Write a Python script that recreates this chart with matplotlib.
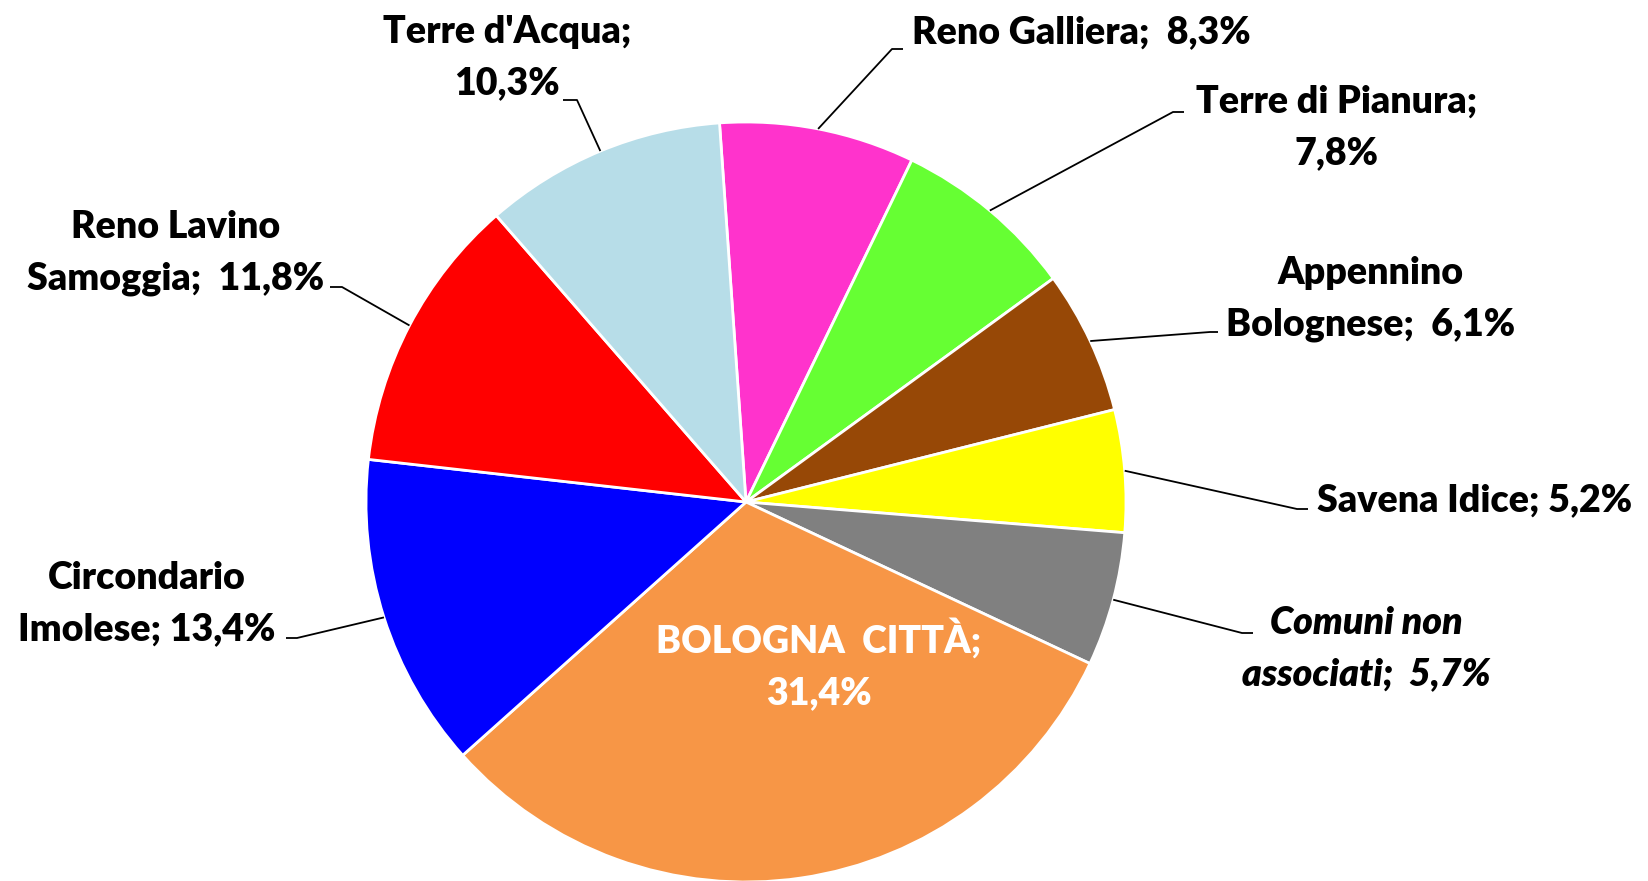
import numpy as np
import matplotlib
matplotlib.use('Agg')
import matplotlib.pyplot as plt

# ── Data ──────────────────────────────────────────────────────────────────────
names = ["Reno Galliera", "Terre di Pianura", "Appennino\nBolognese",
         "Savena Idice", "Comuni non\nassociati", "BOLOGNA  CITTÀ",
         "Circondario\nImolese", "Reno Lavino\nSamoggia", "Terre d'Acqua"]
values = [8.3, 7.8, 6.1, 5.2, 5.7, 31.4, 13.4, 11.8, 10.3]
colors = ['#FF33CC', '#66FF33', '#974806', '#FFFF00', '#808080',
          '#F79646', '#0000FF', '#FF0000', '#B7DDE8']
pct_newline = [False, True, False, False, False, True, False, False, True]
wide_gap = [True, False, True, False, True, False, False, True, False]

# ── Layout (pixel coords, y measured from top) ───────────────────────────────
W, H = 1648, 881
CX, CY, R = 746, 502, 380
LINE_H = 51

# label anchor: x, first baseline y, horizontal alignment
label_pos = [(912, 43, 'left'), (1337, 113, 'center'), (1371, 284, 'center'),
             (1317, 511, 'left'), (1366, 634, 'center'), (819, 653, 'center'),
             (147, 589, 'center'), (176, 238, 'center'), (507, 43, 'center')]
# leader: elbow point, end of short horizontal stub (None = no leader)
leaders = [((892, 49), (903, 49)), ((1173, 112), (1184, 112)),
           ((1210, 332), (1218, 332)), ((1297, 509), (1308, 509)),
           ((1242, 633), (1253, 633)), None,
           ((297, 638), (286, 638)), ((342, 287), (330, 287)),
           ((577, 100), (563, 100))]

def fy(y):
    return H - y

fig = plt.figure(figsize=(W / 100, H / 100), dpi=100)
ax = fig.add_axes([0, 0, 1, 1])

wedges, _ = ax.pie(values, colors=colors, startangle=94, counterclock=False,
                   center=(CX, fy(CY)), radius=R,
                   wedgeprops=dict(edgecolor='white', linewidth=2))
ax.set_xlim(0, W)
ax.set_ylim(0, H)
ax.set_aspect('equal')
ax.axis('off')

for i, (name, v) in enumerate(zip(names, values)):
    pct = f"{v:.1f}%".replace('.', ',')
    sep = ";\n" if pct_newline[i] else (";  " if wide_gap[i] else "; ")
    text = name + sep + pct
    x, y0, ha = label_pos[i]
    is_city = name.startswith("BOLOGNA")
    for k, line in enumerate(text.split('\n')):
        ax.text(x, fy(y0 + k * LINE_H), line, ha=ha, va='baseline',
                fontsize=27, fontweight=800, family='Lato',
                style='italic' if name.startswith("Comuni") else 'normal',
                color='white' if is_city else 'black')

    # leader line from the wedge's outer arc mid-point to the label
    if leaders[i] is not None:
        w = wedges[i]
        mid = np.deg2rad((w.theta1 + w.theta2) / 2)
        ax_x = w.center[0] + w.r * np.cos(mid)
        ax_y = w.center[1] + w.r * np.sin(mid)
        (ex, ey), (sx, sy) = leaders[i]
        ax.plot([ax_x, ex, sx], [ax_y, fy(ey), fy(sy)],
                color='black', lw=1.3, solid_capstyle='butt')

fig.savefig('out.png', dpi=100, facecolor='white')
